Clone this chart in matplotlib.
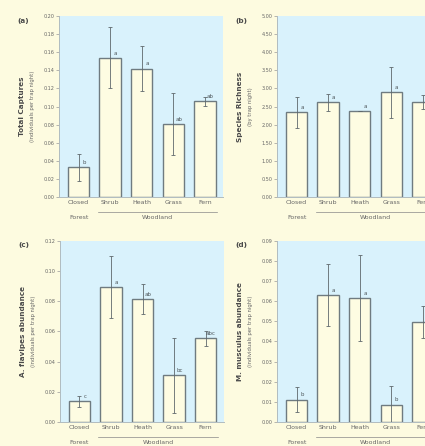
import numpy as np
import matplotlib
matplotlib.use("Agg")
import matplotlib.pyplot as plt
import matplotlib.transforms as mtrans

habitats = ["Closed", "Shrub", "Heath", "Grass", "Fern"]

captures = [0.033, 0.154, 0.142, 0.081, 0.106]
captures_err = [0.015, 0.034, 0.025, 0.034, 0.005]
captures_let = ["b", "a", "a", "ab", "ab"]

richness = [2.34, 2.62, 2.37, 2.89, 2.62]
richness_err = [0.43, 0.23, 0.0, 0.70, 0.20]
richness_let = ["a", "a", "a", "a", "a"]

flavipes = [0.0137, 0.0892, 0.0812, 0.0308, 0.0555]
flavipes_err = [0.0035, 0.0205, 0.010, 0.025, 0.005]
flavipes_let = ["c", "a", "ab", "bc", "abc"]

musculus = [0.0111, 0.063, 0.0617, 0.0086, 0.0497]
musculus_err = [0.0062, 0.0153, 0.0215, 0.0091, 0.008]
musculus_let = ["b", "a", "a", "b", "a"]

bg = "#fdfbe0"
blue = "#d9f2fc"
edge = "#6f7b80"

fig = plt.figure(figsize=(4.25, 4.46), dpi=100, facecolor=bg)

panels = [
    ("(a)", captures, captures_err, captures_let, 0.20, 0.02, "Total Captures",
     "(individuals per trap night)", [0.139, 0.558]),
    ("(b)", richness, richness_err, richness_let, 5.0, 0.5, "Species Richness",
     "(by trap night)", [0.652, 0.558]),
    ("(c)", flavipes, flavipes_err, flavipes_let, 0.12, 0.02, "A. flavipes abundance",
     "(individuals per trap night)", [0.141, 0.054]),
    ("(d)", musculus, musculus_err, musculus_let, 0.09, 0.01, "M. musculus abundance",
     "(individuals per trap night)", [0.652, 0.054]),
]

x = np.arange(len(habitats))
for tag, vals, errs, lets, ymax, step, ylab, ysub, pos in panels:
    ax = fig.add_axes([pos[0], pos[1], 0.386, 0.406], facecolor=blue)
    ax.bar(x, vals, width=0.68, color="#fefce2", edgecolor=edge, linewidth=1.0)
    ax.errorbar(x, vals, yerr=errs, fmt="none", ecolor="#5f686c",
                elinewidth=0.6, capsize=1.5, capthick=0.6)
    for i in range(len(x)):
        ax.text(x[i] + 0.17, vals[i] + ymax * 0.012, lets[i], fontsize=4,
                color="#4f585c", ha="center", va="bottom")
    ax.set_xlim(-0.62, 4.58)
    ax.set_ylim(0, ymax)
    ticks = np.arange(0, ymax + step / 2, step)
    ax.set_yticks(ticks)
    ax.set_yticklabels(["%.2f" % t for t in ticks], fontsize=3.5, color="#666")
    ax.set_xticks(x)
    ax.set_xticklabels(habitats, fontsize=4.5, color="#666")
    ax.tick_params(axis="y", length=2, width=0.5, colors="#999", pad=1.5)
    ax.tick_params(axis="y", labelcolor="#666")
    ax.tick_params(axis="x", length=0, pad=2)
    for s in ["top", "right"]:
        ax.spines[s].set_visible(False)
    ax.spines["left"].set_color("#b0bcc0")
    ax.spines["bottom"].set_color("#b0bcc0")
    ax.spines["left"].set_linewidth(0.7)
    ax.spines["bottom"].set_linewidth(0.7)

    tr = mtrans.blended_transform_factory(ax.transData, ax.transAxes)
    ax.text(0, -0.115, "Forest", transform=tr, fontsize=4.5, color="#666",
            ha="center", va="center")
    ax.text(2.5, -0.115, "Woodland", transform=tr, fontsize=4.5, color="#666",
            ha="center", va="center")
    ax.plot([0.6, 4.4], [-0.082, -0.082], transform=tr, color="#888",
            lw=0.5, clip_on=False)

    ax.text(-0.225, 0.5, ylab, transform=ax.transAxes, rotation=90,
            fontsize=5.2, fontweight="bold", color="#4a4a4a", ha="center", va="center")
    ax.text(-0.16, 0.5, ysub, transform=ax.transAxes, rotation=90,
            fontsize=3.8, color="#666", ha="center", va="center")
    ax.text(-0.22, 0.975, tag, transform=ax.transAxes, fontsize=5.2,
            fontweight="bold", color="#4a4a4a", ha="center", va="center")

fig.savefig("out.png", dpi=100, facecolor=bg)
